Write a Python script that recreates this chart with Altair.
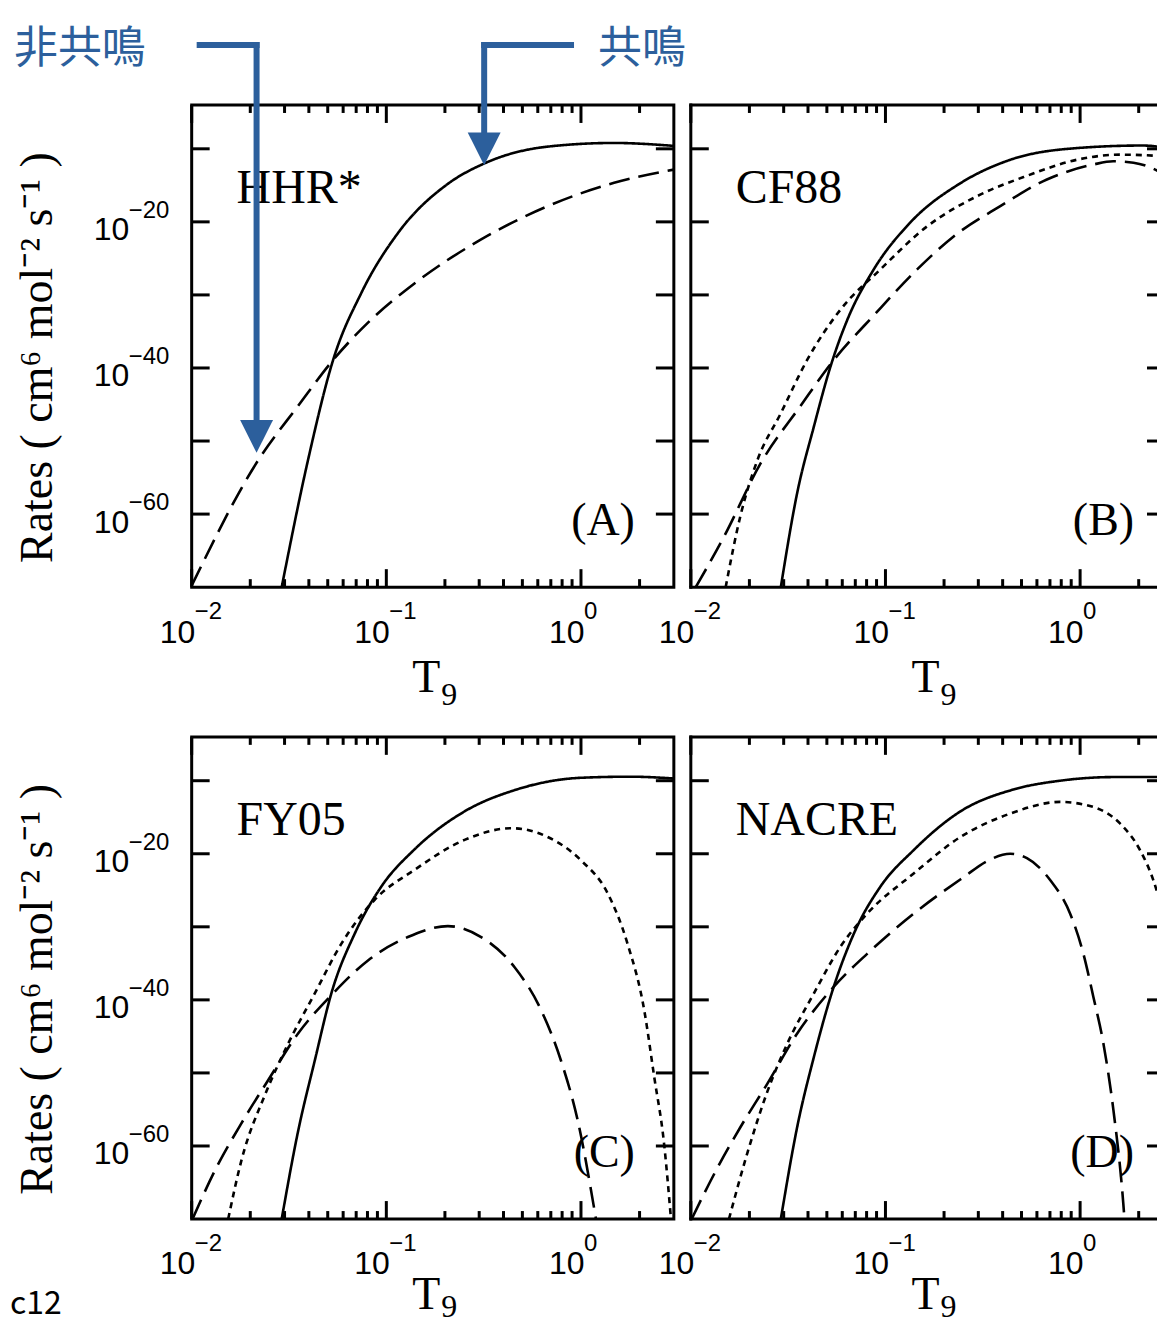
import math
import altair as alt
import pandas as pd

# ---------------- values (T9 , log10 of rate) ----------------
# Panel A : HHR*
A_res_T = [0.029, 0.0396, 0.0533, 0.0745, 0.115, 0.207, 0.319, 0.675, 1.48, 3.0]
A_res_E = [-70, -52.6, -38.9, -29.7, -21.5, -14.8, -12.0, -9.7, -9.2, -9.6]
A_non_T = [0.01, 0.022, 0.0352, 0.0533, 0.0805, 0.14, 0.307, 0.675, 1.48, 3.0]
A_non_E = [-69.8, -52.6, -45.2, -38.9, -33.8, -28.4, -22.4, -17.85, -14.66, -12.85]

# Panel B : CF88
B_res_T = [0.029, 0.0352, 0.0429, 0.0522, 0.0637, 0.0871, 0.134, 0.243, 0.438, 0.962, 2.11, 2.8]
B_res_E = [-70, -57.1, -48.0, -39.8, -33.4, -26.5, -20.1, -14.7, -11.5, -9.9, -9.55, -9.9]
B_dot_T = [0.0151, 0.018, 0.022, 0.029, 0.0396, 0.0588, 0.0942, 0.164, 0.295, 0.533, 0.962, 1.6, 2.57, 2.8]
B_dot_E = [-70, -60.2, -52.6, -46.2, -38.9, -32.0, -26.5, -20.6, -16.5, -13.7, -11.5, -10.8, -11.0, -11.2]
B_non_T = [0.0106, 0.0148, 0.0229, 0.0366, 0.0543, 0.0871, 0.1455, 0.224, 0.389, 0.675, 1.17, 1.48, 1.88, 2.67, 2.8]
B_non_E = [-70, -63.1, -53.0, -45.2, -38.9, -32.8, -26.5, -22.0, -17.85, -14.2, -12.15, -11.7, -11.9, -13.5, -13.9]

# Panel C : FY05
C_res_T = [0.029, 0.0352, 0.0429, 0.0522, 0.0689, 0.0942, 0.1396, 0.2523, 0.455, 1.0, 1.8, 3.0]
C_res_E = [-70, -58.0, -48.3, -39.1, -30.9, -24.5, -19.4, -14.2, -11.3, -9.6, -9.45, -9.7]
C_dot_T = [0.0154, 0.018, 0.0238, 0.0313, 0.0429, 0.0588, 0.0871, 0.1396, 0.2523, 0.44, 0.6745, 1.0,
           1.371, 1.734, 2.113, 2.377, 2.673, 2.9]
C_dot_E = [-70, -62.0, -53.0, -46.0, -39.1, -32.3, -26.3, -22.2, -18.1, -16.5, -17.7, -20.9,
           -25.4, -32.3, -41.4, -50.5, -59.7, -70]
C_non_T = [0.0101, 0.0132, 0.018, 0.0247, 0.0352, 0.0533, 0.0805, 0.129, 0.207, 0.307, 0.455, 0.624,
           0.789, 0.962, 1.194]
C_non_E = [-70, -63.3, -56.9, -51.0, -44.6, -39.1, -34.6, -31.4, -29.9, -31.4, -35.5, -41.4,
           -48.3, -56.5, -70]

# Panel D : NACRE
D_res_T = [0.029, 0.0352, 0.0429, 0.0522, 0.0689, 0.0942, 0.1396, 0.2427, 0.455, 0.789, 1.5, 2.8]
D_res_E = [-70, -57.4, -47.8, -39.6, -30.9, -24.5, -19.5, -14.2, -11.2, -10.0, -9.5, -9.5]
D_dot_T = [0.0157, 0.0195, 0.0247, 0.0313, 0.0429, 0.0588, 0.0805, 0.1396, 0.2427, 0.4375, 0.789, 1.17,
           1.603, 2.032, 2.377, 2.673, 2.8]
D_dot_E = [-70, -61.0, -52.6, -46.0, -39.1, -32.7, -28.2, -22.7, -17.7, -14.5, -12.9, -13.6,
           -15.85, -19.5, -23.6, -28.2, -30.2]
D_non_T = [0.0101, 0.0132, 0.018, 0.0247, 0.0352, 0.0543, 0.0805, 0.1396, 0.2523, 0.333, 0.4375, 0.533,
           0.7015, 0.889, 1.04, 1.17, 1.318, 1.483, 1.667, 1.69]
D_non_E = [-70, -63.8, -57.4, -51.5, -44.6, -38.2, -33.7, -28.2, -23.2, -21.0, -20.0, -20.6,
           -23.6, -28.2, -33.7, -39.6, -46.0, -55.1, -67.9, -70]

panel_keys = ["A", "B", "C", "D"]
panel_names = ["HHR*", "CF88", "FY05", "NACRE"]
panel_tags = ["(A)", "(B)", "(C)", "(D)"]
series_names = ["solid", "dashed", "dotted"]

tick_base = "10"
x_tick_values = [0.01, 0.1, 1.0]
x_tick_exps = ["−2", "−1", "0"]
x_minor_ticks = [0.02, 0.03, 0.04, 0.05, 0.06, 0.07, 0.08, 0.09,
                 0.2, 0.3, 0.4, 0.5, 0.6, 0.7, 0.8, 0.9, 2.0]
y_tick_values = [1e-20, 1e-40, 1e-60]
y_tick_exps = ["−20", "−40", "−60"]
y_all_ticks = [1e-10, 1e-20, 1e-30, 1e-40, 1e-50, 1e-60]

x_title_main, x_title_sub = "T", "9"
y_title = "Rates ( cm⁶ mol⁻² s⁻¹ )"
label_nonres = "非共鳴"
label_res = "共鳴"
corner_label = "c12"

# ---------------- tables ----------------
series_table = {
    "A": [("solid", A_res_T, A_res_E), ("dashed", A_non_T, A_non_E)],
    "B": [("solid", B_res_T, B_res_E), ("dashed", B_non_T, B_non_E), ("dotted", B_dot_T, B_dot_E)],
    "C": [("solid", C_res_T, C_res_E), ("dashed", C_non_T, C_non_E), ("dotted", C_dot_T, C_dot_E)],
    "D": [("solid", D_res_T, D_res_E), ("dashed", D_non_T, D_non_E), ("dotted", D_dot_T, D_dot_E)],
}
rows = []
for key, lst in series_table.items():
    for s, ts, es in lst:
        for t, e in zip(ts, es):
            rows.append({"panel": key, "series": s, "T": t, "rate": 10.0 ** e})
lines_df = pd.DataFrame(rows)

xmaj_df = pd.DataFrame({"T": x_tick_values})
xmin_df = pd.DataFrame({"T": x_minor_ticks})
yt_df = pd.DataFrame({"rate": y_all_ticks})
xexp_df = pd.DataFrame({"T": x_tick_values, "exp": x_tick_exps})
yexp_df = pd.DataFrame({"rate": y_tick_values, "exp": y_tick_exps})

W = H = 483          # full panels (left column)
W_CUT = 467          # right column is cut by the picture edge
BLUE = "#2c5f9c"
X_MIN, X_MAX = 0.01, 3.0
X_MAX_CUT = 10 ** (math.log10(X_MIN) + W_CUT / W * math.log10(X_MAX / X_MIN))

yscale = alt.Scale(type="log", domain=[1e-70, 1e-4], nice=False)

xaxis = alt.Axis(values=x_tick_values, labelExpr=f"'{tick_base}'", title=None,
                 ticks=False, tickSize=0, domain=False, grid=False, labelFlush=False,
                 labelFont="Liberation Sans", labelFontSize=32, labelColor="black",
                 labelAlign="right", labelOffset=3,
                 labelBaseline="alphabetic", labelPadding=55, labelOverlap=False)
yaxis = alt.Axis(values=y_tick_values, labelExpr=f"'{tick_base}'", title=None,
                 ticks=False, tickSize=0, domain=False, grid=False, labelFlush=False,
                 labelFont="Liberation Sans", labelFontSize=32, labelColor="black",
                 labelBaseline="alphabetic", labelOffset=18, labelPadding=63, labelOverlap=False)


def txt(label, x, y, size, font="Liberation Serif", align="left", baseline="alphabetic",
        color="black", angle=0):
    kw = dict(font=font, fontSize=size, align=align, baseline=baseline, color=color)
    if angle:
        kw["angle"] = angle
    return alt.Chart(pd.DataFrame({"label": [label]})).mark_text(**kw).encode(
        x=alt.value(x), y=alt.value(y), text="label:N")


def seg(x1, y1, x2, y2, color=BLUE, width=6):
    return alt.Chart(pd.DataFrame({"k": [0]})).mark_rule(
        color=color, strokeWidth=width).encode(
        x=alt.value(x1), x2=alt.value(x2), y=alt.value(y1), y2=alt.value(y2))


def head(x, y):
    return alt.Chart(pd.DataFrame({"k": [0]})).mark_point(
        shape="M-1,-1L1,-1L0,1Z", filled=True, size=1089, color=BLUE, opacity=1).encode(
        x=alt.value(x), y=alt.value(y))


def panel(i):
    key = panel_keys[i]
    left = key in ("A", "C")
    top = key in ("A", "B")
    w = W if left else W_CUT
    xscale = alt.Scale(type="log", domain=[X_MIN, X_MAX if left else X_MAX_CUT], nice=False)
    X = alt.X("T:Q", scale=xscale, axis=xaxis)
    Y = alt.Y("rate:Q", scale=yscale, axis=yaxis if left else None)
    d = lines_df[lines_df.panel == key]
    lines = alt.Chart(d).mark_line(clip=True, interpolate="monotone", strokeWidth=2.6,
                                   color="black").encode(
        x=X, y=Y, detail="series:N",
        strokeDash=alt.StrokeDash("series:N", legend=None,
                                  scale=alt.Scale(domain=series_names,
                                                  range=[[1, 0], [21, 9], [6, 5]])))
    rk = dict(strokeWidth=3, color="black")
    ticks = [
        alt.Chart(xmaj_df).mark_rule(**rk).encode(x=X, y=alt.value(H), y2=alt.value(H - 18)),
        alt.Chart(xmaj_df).mark_rule(**rk).encode(x=X, y=alt.value(0), y2=alt.value(18)),
        alt.Chart(xmin_df).mark_rule(**rk).encode(x=X, y=alt.value(H), y2=alt.value(H - 8)),
        alt.Chart(xmin_df).mark_rule(**rk).encode(x=X, y=alt.value(0), y2=alt.value(8)),
        alt.Chart(yt_df).mark_rule(**rk).encode(y=Y, x=alt.value(0), x2=alt.value(18)),
        alt.Chart(yt_df).mark_rule(**rk).encode(
            y=Y, x=alt.value(w - (18 if left else 10)), x2=alt.value(w)),
        alt.Chart(xexp_df).mark_text(font="Liberation Sans", fontSize=24, align="left",
                                     baseline="alphabetic", dx=3, color="black").encode(
            x=X, y=alt.value(H + 32), text="exp:N"),
    ]
    if left:
        ticks.append(alt.Chart(yexp_df).mark_text(font="Liberation Sans", fontSize=24, align="left",
                                                  baseline="alphabetic", dy=-4, color="black").encode(
            y=Y, x=alt.value(-63), text="exp:N"))
    else:
        # frame without the right side (cut by the picture edge)
        ticks += [seg(-1.5, 0, w, 0, color="black", width=3),
                  seg(-1.5, H, w, H, color="black", width=3),
                  seg(0, -1.5, 0, H + 1.5, color="black", width=3)]
    tb = 105 if top else 90
    sb = 118 if top else 98
    texts = [
        txt(panel_names[i], 45, 98, 48),
        txt(panel_tags[i], 444, 431, 46, align="right"),
        txt(x_title_main, 221, H + tb, 46),
        txt(x_title_sub, 250, H + sb, 32),
    ]
    if left:
        texts.append(txt(y_title, -140, 253, 46, align="center", angle=270))
    extra = []
    if key == "A":
        extra = [
            seg(5, -60, 68, -60), seg(65, -63, 65, 318), head(65, 332),
            seg(290, -60, 383, -60), seg(293, -63, 293, 30), head(293, 44),
            txt(label_nonres, -178, -42, 44, font="Noto Sans CJK JP", color=BLUE),
            txt(label_res, 407, -42, 44, font="Noto Sans CJK JP", color=BLUE),
            seg(-182, -94, -181, -94, color="white", width=1),
        ]
    if key == "C":
        extra = [txt(corner_label, -182, 578, 32, font="Noto Sans CJK JP")]
    layer = alt.layer(lines, *ticks, *texts, *extra).properties(width=w, height=H)
    if not left:
        layer = layer.properties(view=alt.ViewBackground(strokeOpacity=0, strokeWidth=0))
    return layer


chart = alt.concat(
    *[panel(i) for i in range(4)], columns=2,
    spacing=alt.RowColnumber(row=150, column=17), bounds="flush"
).properties(padding=0, background="white").configure_view(
    stroke="black", strokeWidth=3
)

chart.save("out.html", embed_options={"renderer": "svg", "actions": False})
